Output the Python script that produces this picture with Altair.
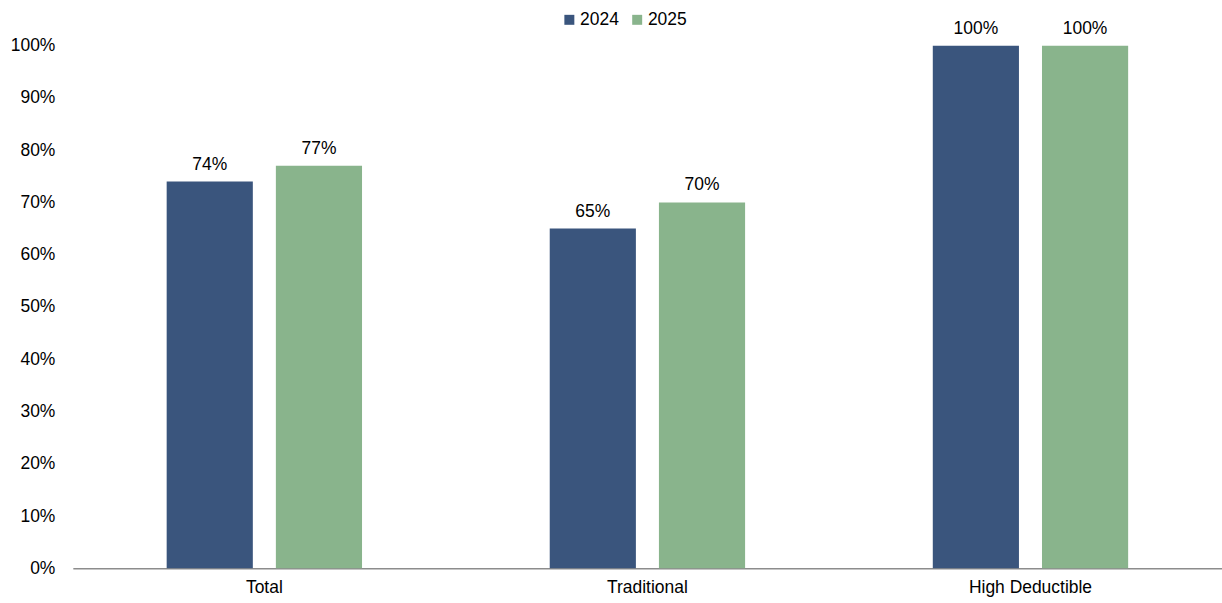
import altair as alt
import pandas as pd

categories = ["Total", "Traditional", "High Deductible"]
years = ["2024", "2025"]
v2024 = [0.74, 0.65, 1.00]
v2025 = [0.77, 0.70, 1.00]
colors = ["#3A557D", "#89B48C"]

rows = []
for c, a, b in zip(categories, v2024, v2025):
    rows.append({"cat": c, "year": "2024", "value": a})
    rows.append({"cat": c, "year": "2025", "value": b})
df = pd.DataFrame(rows)

FONT = "Liberation Sans"
FS = 17.5

x = alt.X("cat:N", sort=categories, title=None,
          scale=alt.Scale(paddingInner=0.49, paddingOuter=0.245),
          axis=alt.Axis(labelAngle=0, ticks=False, domainColor="#8c8c8c", domainWidth=1.5,
                        labelFontSize=FS, labelColor="#000000", labelFont=FONT, labelPadding=10))
xo = alt.XOffset("year:N", sort=years,
                 scale=alt.Scale(paddingInner=0.211, paddingOuter=0))
y = alt.Y("value:Q", title=None,
          scale=alt.Scale(domain=[0, 1], nice=False),
          axis=alt.Axis(format=".0%", values=[i / 10 for i in range(11)], grid=False,
                        domain=False, ticks=False, labelFontSize=FS, labelColor="#000000",
                        labelFont=FONT, labelPadding=18))
color = alt.Color("year:N", sort=years,
                  scale=alt.Scale(domain=years, range=colors),
                  legend=alt.Legend(title=None, orient="none", direction="horizontal",
                                    legendX=489, legendY=-35, symbolType="square",
                                    symbolSize=100, symbolStrokeWidth=0, labelFontSize=FS,
                                    labelFont=FONT, labelColor="#000000", labelOffset=2,
                                    columnPadding=9, symbolOpacity=1))

bars = alt.Chart(df).mark_bar().encode(x=x, xOffset=xo, y=y, color=color)
labels = alt.Chart(df).mark_text(baseline="bottom", dy=-8, fontSize=FS, font=FONT,
                                  color="#000000").encode(
    x=x, xOffset=xo, y=y, text=alt.Text("value:Q", format=".0%"))

chart = alt.layer(bars, labels).properties(
    width=1152, height=524,
    autosize=alt.AutoSizeParams(type="none"),
    padding={"left": 73, "top": 45, "right": 0, "bottom": 34},
).configure(background="white").configure_view(stroke=None, strokeWidth=0)

chart.save("out.html", embed_options={"renderer": "svg", "actions": False})
